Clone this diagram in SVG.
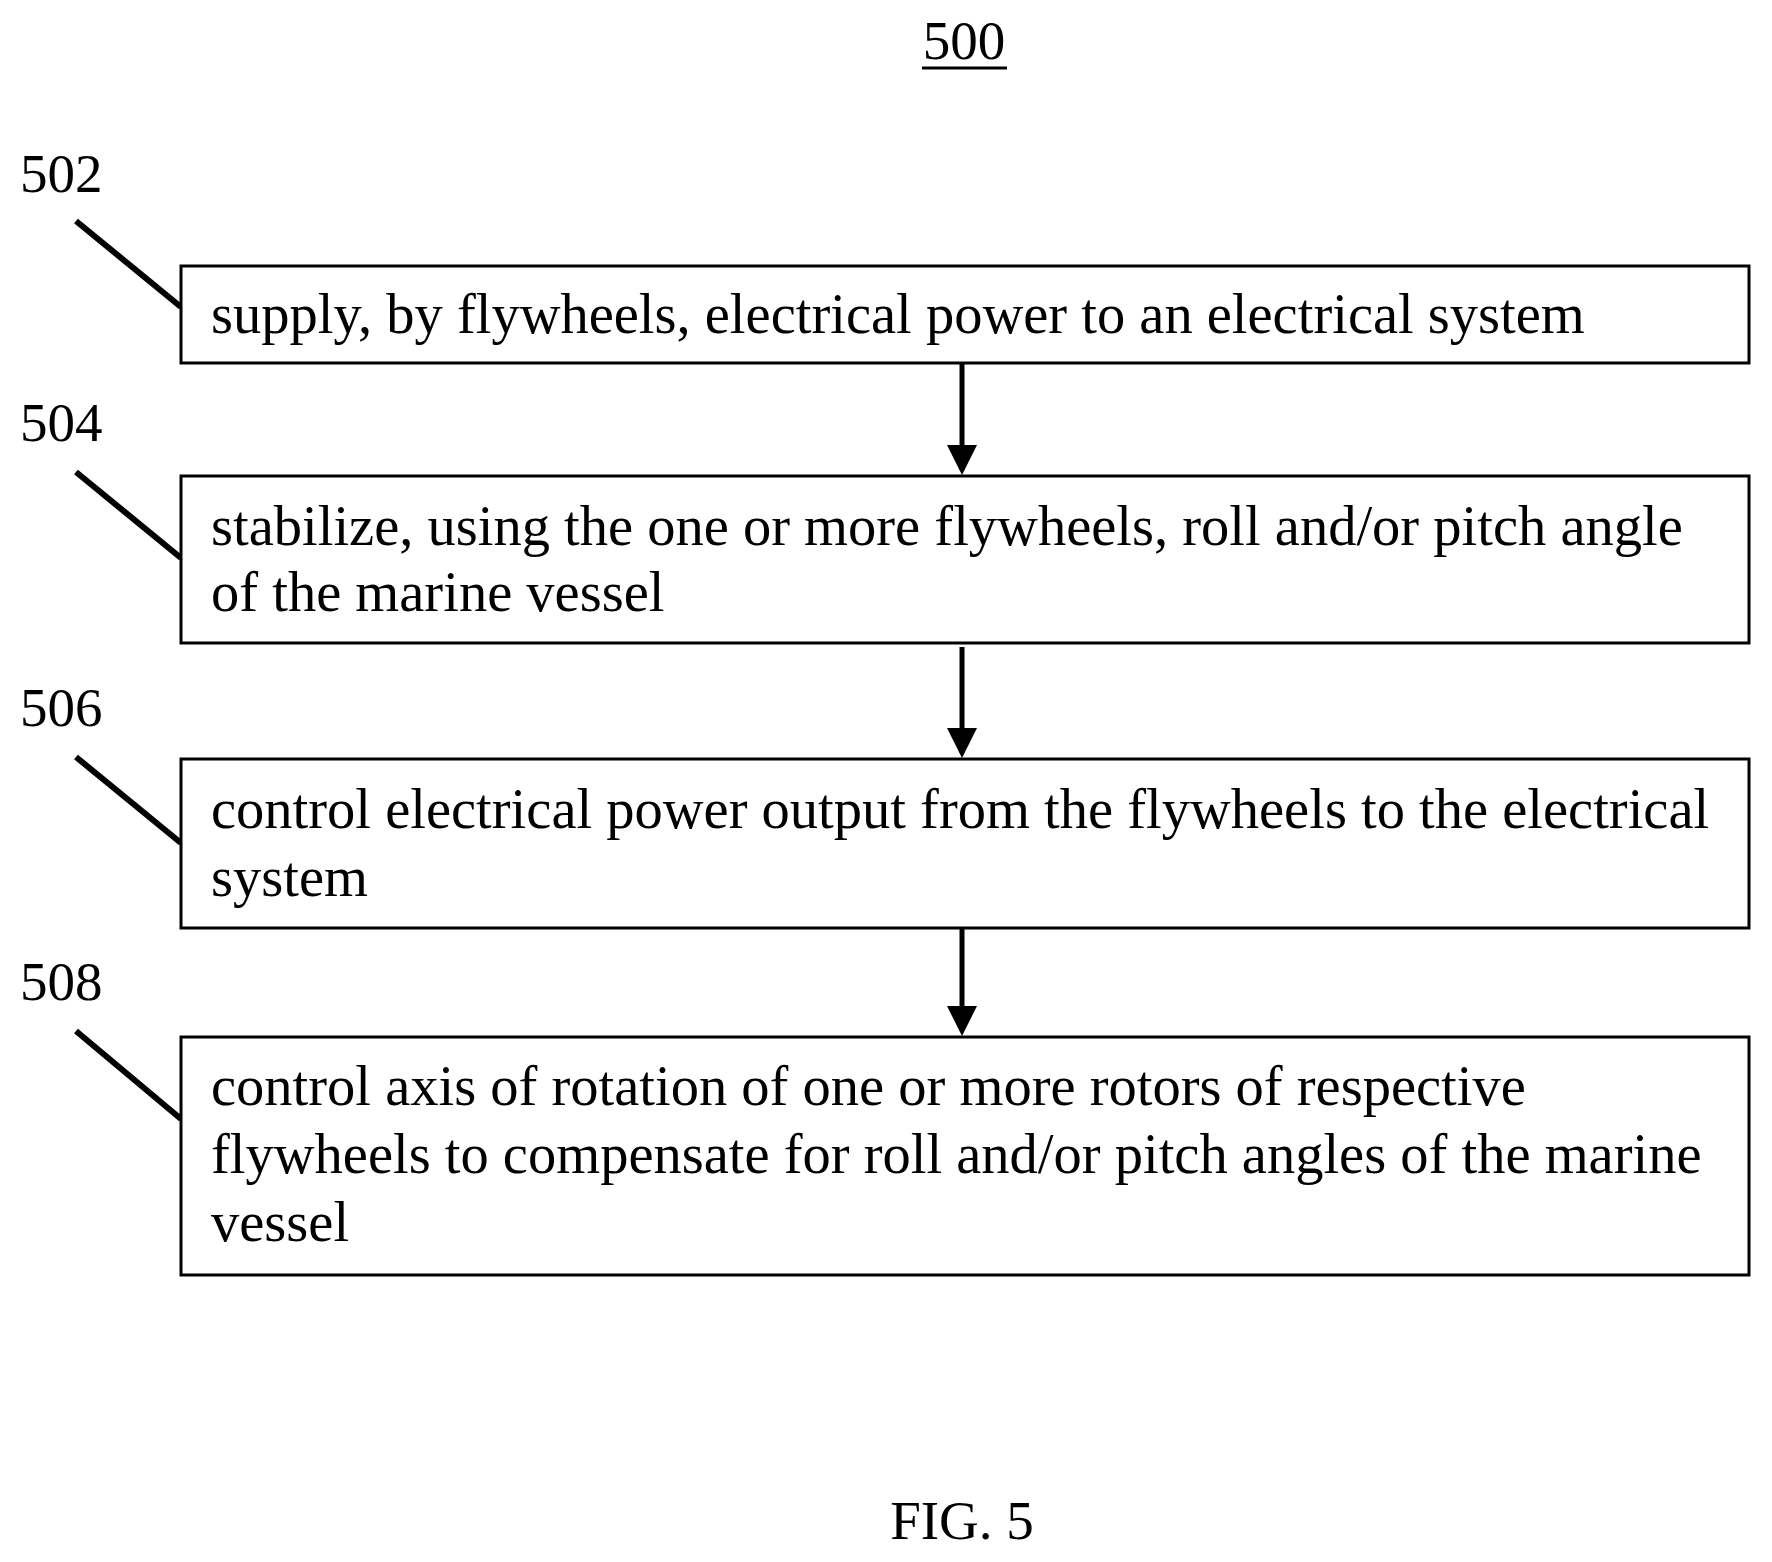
<svg xmlns="http://www.w3.org/2000/svg" width="1772" height="1562" viewBox="0 0 1772 1562">
<style>
text{font-family:"Liberation Serif","Times New Roman",serif;font-size:56.5px;fill:#000}
.lbl{font-size:55px}
.box{fill:#fff;stroke:#000;stroke-width:3}
.lead{stroke:#000;stroke-width:6}
.arr{stroke:#000;stroke-width:5;fill:none;marker-end:url(#ah)}
</style>
<defs><marker id="ah" markerWidth="6" markerHeight="6" refX="5" refY="3" orient="auto" markerUnits="strokeWidth"><path d="M0,0L6,3L0,6z" fill="#000"/></marker></defs>
<rect width="1772" height="1562" fill="#fff"/>
<g id="title"><text class="lbl" x="964" y="59" text-anchor="middle">500</text><line x1="922" y1="68" x2="1007" y2="68" stroke="#000" stroke-width="3"/></g>
<g id="n502"><text class="lbl" x="20" y="192">502</text><line class="lead" x1="76" y1="221" x2="181" y2="307"/><rect class="box" x="181" y="266" width="1568" height="97"/><text x="211" y="333">supply, by flywheels, electrical power to an electrical system</text></g>
<g id="n504"><text class="lbl" x="20" y="441">504</text><line class="lead" x1="76" y1="472" x2="181" y2="558"/><rect class="box" x="181" y="476" width="1568" height="167"/><text x="211" y="545">stabilize, using the one or more flywheels, roll and/or pitch angle</text><text x="211" y="611">of the marine vessel</text></g>
<g id="n506"><text class="lbl" x="20" y="726">506</text><line class="lead" x1="76" y1="757" x2="181" y2="843"/><rect class="box" x="181" y="759" width="1568" height="169"/><text x="211" y="828">control electrical power output from the flywheels to the electrical</text><text x="211" y="896">system</text></g>
<g id="n508"><text class="lbl" x="20" y="1000">508</text><line class="lead" x1="76" y1="1031" x2="181" y2="1119"/><rect class="box" x="181" y="1037" width="1568" height="238"/><text x="211" y="1105">control axis of rotation of one or more rotors of respective</text><text x="211" y="1173">flywheels to compensate for roll and/or pitch angles of the marine</text><text x="211" y="1241">vessel</text></g>
<g id="connectors">
<line class="arr" x1="962" y1="363" x2="962" y2="470"/>
<line class="arr" x1="962" y1="647" x2="962" y2="753"/>
<line class="arr" x1="962" y1="928" x2="962" y2="1031"/>
</g>
<text class="lbl" x="962" y="1539" text-anchor="middle">FIG. 5</text>
</svg>
